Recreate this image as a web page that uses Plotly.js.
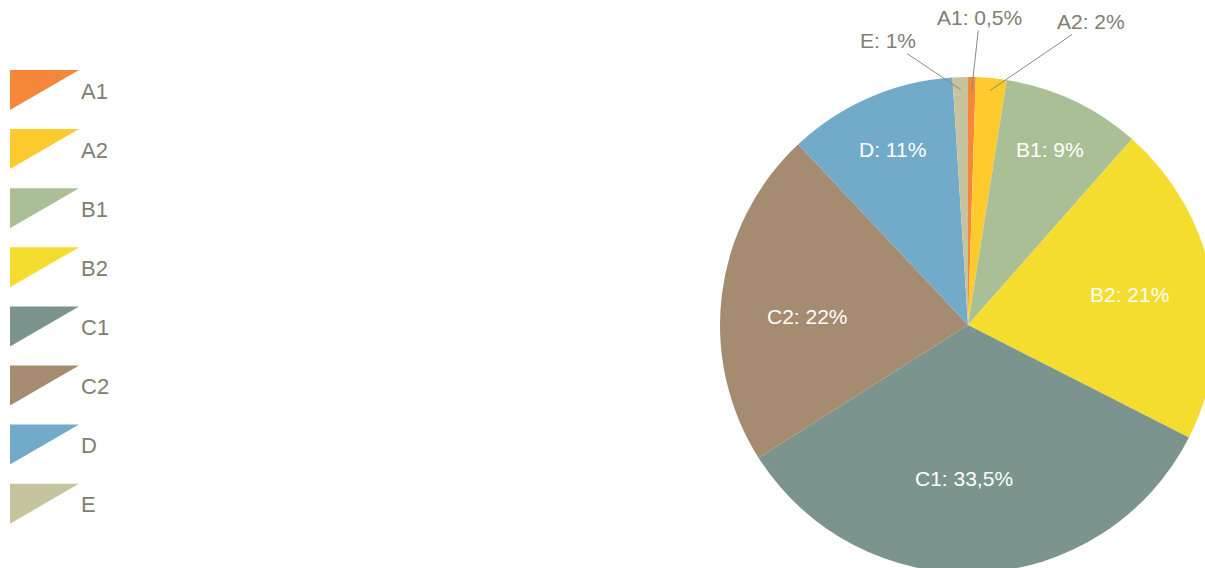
<!DOCTYPE html>
<html>
<head>
<meta charset="utf-8">
<script src="https://cdn.plot.ly/plotly-3.0.1.min.js"></script>
<style>
html,body{margin:0;padding:0;overflow:hidden;background:#fff;}
#chart{width:1220px;height:580px;}
</style>
</head>
<body>
<div id="chart"></div>
<script>
const categories = ['A1','A2','B1','B2','C1','C2','D','E'];
const values = [0.5, 2, 9, 21, 33.5, 22, 11, 1];
const valueLabels = ['0,5%','2%','9%','21%','33,5%','22%','11%','1%'];
const colors = ['#F5873A','#FECB2E','#ABBF96','#F5DD30','#7B948D','#A58B70','#72ABCA','#C6C49E'];
const outsideSlices = ['A1','A2','E'];

const W = 1220, H = 580;
const px = x => x / W;
const py = y => 1 - y / H;
const cx = 968, cy = 325, R = 248;

const textColor = '#808070';
const fontFam = 'Liberation Sans, Arial, sans-serif';

const labelText = categories.map((c,i) => c + ': ' + valueLabels[i]);

const trace = {
  type: 'pie',
  labels: categories,
  values: values,
  textinfo: 'none',
  sort: false,
  direction: 'clockwise',
  rotation: 0,
  marker: {colors: colors, line: {width: 0}},
  showlegend: false,
  hoverinfo: 'label+percent',
  domain: {x: [px(cx - R), px(cx + R)], y: [py(cy + R), py(cy - R)]}
};

// custom legend with triangular swatches
const shapes = [];
const annotations = [];
const legTop = 70, legStep = 59.1, swW = 69, swH = 40, legX = 10;
categories.forEach((c,i) => {
  const t = legTop + i * legStep;
  shapes.push({
    type: 'path', xref: 'paper', yref: 'paper',
    path: `M ${px(legX)} ${py(t)} L ${px(legX + swW)} ${py(t)} L ${px(legX)} ${py(t + swH)} Z`,
    fillcolor: colors[i], line: {width: 0}
  });
  annotations.push({
    xref: 'paper', yref: 'paper', x: px(79), y: py(t + 21),
    xanchor: 'left', yanchor: 'middle', showarrow: false,
    text: c, font: {size: 22, color: textColor, family: fontFam}
  });
});

// data labels: inside labels at slice mid-angle, outside labels with leader lines
const total = values.reduce((a,b) => a + b, 0);
const outsideOffsets = {A1: [8, -72], A2: [101, -69], E: [-73, -49]};
const insideRadius = {B1: 0.78, B2: 0.665, C1: 0.62, C2: 0.65, D: 0.77};
const insideShift = {C1: [-11, 0], C2: [-1, -12]};
let cum = 0;
categories.forEach((c,i) => {
  const mid = (cum + values[i] / 2) / total * 2 * Math.PI;
  cum += values[i];
  if (outsideSlices.includes(c)) {
    const hx = cx + 0.95 * R * Math.sin(mid);
    const hy = cy - 0.95 * R * Math.cos(mid);
    annotations.push({
      xref: 'paper', yref: 'paper', x: px(hx), y: py(hy),
      ax: outsideOffsets[c][0], ay: outsideOffsets[c][1],
      showarrow: true, arrowhead: 0, arrowwidth: 1, arrowcolor: '#8a8a7c',
      standoff: 0, startstandoff: 0,
      text: labelText[i], font: {size: 21, color: textColor, family: fontFam}
    });
  } else {
    const r = insideRadius[c] * R;
    const sh = insideShift[c] || [0, 0];
    annotations.push({
      xref: 'paper', yref: 'paper',
      x: px(cx + r * Math.sin(mid)), y: py(cy - r * Math.cos(mid)),
      xshift: sh[0], yshift: sh[1],
      xanchor: 'center', yanchor: 'middle', showarrow: false,
      text: labelText[i], font: {size: 21, color: '#ffffff', family: fontFam}
    });
  }
});

const layout = {
  width: W, height: H,
  margin: {l: 0, r: 0, t: 0, b: 0},
  paper_bgcolor: '#ffffff',
  showlegend: false,
  shapes: shapes,
  annotations: annotations
};

Plotly.newPlot('chart', [trace], layout, {displayModeBar: false, staticPlot: true});
</script>
</body>
</html>
